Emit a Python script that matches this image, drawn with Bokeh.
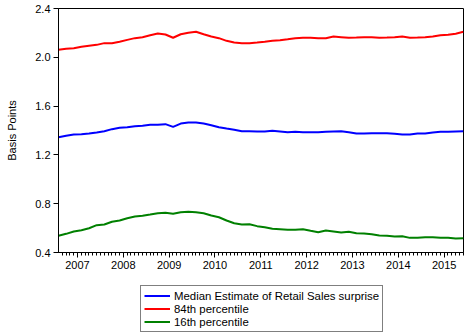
from bokeh.plotting import figure
from bokeh.layouts import column
from bokeh.models import FixedTicker, Legend, LegendItem, PrintfTickFormatter, Range1d
from bokeh.embed import file_html
from bokeh.resources import INLINE

# bi-monthly observations, decimal years
start_year = 2006.586
step = 2.0 / 12.0

median = [1.345, 1.357, 1.367, 1.370, 1.375, 1.384, 1.394, 1.411, 1.422, 1.427,
          1.435, 1.439, 1.447, 1.447, 1.452, 1.430, 1.457, 1.466, 1.466, 1.457,
          1.443, 1.427, 1.416, 1.406, 1.394, 1.394, 1.392, 1.392, 1.398, 1.392,
          1.386, 1.389, 1.386, 1.386, 1.386, 1.389, 1.392, 1.394, 1.386, 1.375,
          1.375, 1.378, 1.378, 1.378, 1.373, 1.367, 1.367, 1.375, 1.375, 1.384,
          1.389, 1.389, 1.392, 1.394]
p84 = [2.061, 2.070, 2.075, 2.086, 2.094, 2.102, 2.116, 2.116, 2.127, 2.143,
       2.157, 2.165, 2.181, 2.195, 2.187, 2.160, 2.189, 2.201, 2.209, 2.189,
       2.170, 2.157, 2.135, 2.121, 2.116, 2.116, 2.121, 2.127, 2.135, 2.140,
       2.148, 2.157, 2.160, 2.160, 2.157, 2.157, 2.170, 2.165, 2.160, 2.162,
       2.165, 2.165, 2.160, 2.162, 2.165, 2.170, 2.160, 2.162, 2.165, 2.170,
       2.181, 2.184, 2.193, 2.209]
p16 = [0.537, 0.553, 0.572, 0.583, 0.599, 0.624, 0.630, 0.652, 0.662, 0.681,
       0.695, 0.701, 0.711, 0.722, 0.725, 0.717, 0.730, 0.734, 0.730, 0.722,
       0.703, 0.689, 0.662, 0.640, 0.630, 0.632, 0.616, 0.607, 0.594, 0.591,
       0.586, 0.586, 0.591, 0.578, 0.566, 0.580, 0.572, 0.564, 0.570, 0.558,
       0.556, 0.550, 0.539, 0.537, 0.531, 0.534, 0.520, 0.520, 0.525, 0.525,
       0.520, 0.520, 0.515, 0.517]
years = [2007, 2008, 2009, 2010, 2011, 2012, 2013, 2014, 2015]
y_ticks = [0.4, 0.8, 1.2, 1.6, 2.0, 2.4]
labels = ["Median Estimate of Retail Sales surprise", "84th percentile", "16th percentile"]
colors = ["#0000ff", "#ff0000", "#008000"]

n = len(median)
dates = [start_year + i * step for i in range(n)]
minor = [2006 + m / 12.0 for m in range(0, 12 * 10 + 1)]
series = [median, p84, p16]

FONT = "Liberation Sans"

p = figure(width=464, height=280, output_backend="svg", toolbar_location=None,
           x_range=Range1d(dates[0], dates[-1] + 0.003), y_range=Range1d(0.4, 2.4),
           min_border_left=58, min_border_right=1, min_border_top=8, min_border_bottom=28)
p.background_fill_color = "white"
p.border_fill_color = "white"
p.outline_line_color = "black"
p.outline_line_width = 1
p.xgrid.visible = False
p.ygrid.visible = False

for ys, c in zip(series, colors):
    p.line(dates, ys, line_color=c, line_width=2)

xa = p.xaxis[0]
xa.ticker = FixedTicker(ticks=years, minor_ticks=minor)
xa.major_tick_out = 5
xa.major_tick_in = 0
xa.minor_tick_out = 3
xa.minor_tick_in = 0
xa.axis_line_color = "black"
xa.major_label_text_font = FONT
xa.major_label_text_font_size = "11px"
xa.major_label_text_color = "black"
xa.major_label_standoff = 3

ya = p.yaxis[0]
ya.ticker = FixedTicker(ticks=y_ticks)
ya.formatter = PrintfTickFormatter(format="%.1f")
ya.major_tick_out = 5
ya.major_tick_in = 0
ya.minor_tick_line_color = None
ya.axis_line_color = "black"
ya.major_label_text_font = FONT
ya.major_label_text_font_size = "11px"
ya.major_label_text_color = "black"
ya.major_label_standoff = 3
ya.axis_label = "Basis Points"
ya.axis_label_text_font = FONT
ya.axis_label_text_font_size = "11px"
ya.axis_label_text_font_style = "normal"
ya.axis_label_text_color = "black"
ya.axis_label_standoff = 14

# legend strip below the chart
pl = figure(width=464, height=55, output_backend="svg", toolbar_location=None,
            x_axis_location=None, y_axis_location=None,
            x_range=Range1d(dates[0], dates[-1]), y_range=Range1d(0.4, 2.4),
            min_border=0)
pl.outline_line_color = None
pl.xgrid.visible = False
pl.ygrid.visible = False
items = []
for ys, c, lab in zip(series, colors, labels):
    r = pl.line(dates, ys, line_color=c, line_width=2, visible=False)
    items.append(LegendItem(label=lab, renderers=[r]))

legend = Legend(items=items, location=(82, 3), orientation="vertical")
legend.border_line_color = "black"
legend.border_line_width = 1
legend.background_fill_alpha = 1
legend.label_text_font = FONT
legend.label_text_font_size = "11.4px"
legend.label_text_color = "black"
legend.glyph_width = 26
legend.glyph_height = 13
legend.label_height = 13
legend.spacing = 0
legend.padding = 3
legend.margin = 0
legend.label_standoff = 4
pl.add_layout(legend, "center")

layout = column(p, pl, spacing=0)
open("out.html", "w").write(file_html(layout, INLINE))
